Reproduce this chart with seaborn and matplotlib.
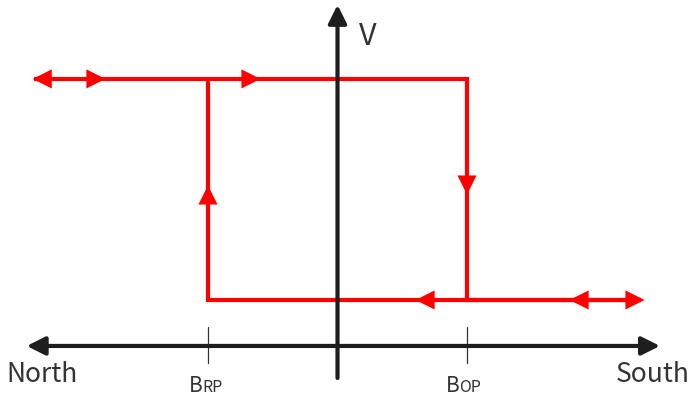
import pandas as pd
import seaborn as sns
import matplotlib.pyplot as plt

# Hall switch hysteresis: output V against field B (BRP = -1, BOP = +1)
b_rp = -1.0
b_op = 1.0
v_high = 1.0
v_low = 0.0

# loop path drawn as one continuous line
loop_b = [-2.34, b_op, b_op, 2.34, b_rp, b_rp]
loop_v = [v_high, v_high, v_low, v_low, v_low, v_high]

# arrowheads along the loop
arrow_b = [-2.28, -1.865, -0.668, 0.676, 1.865, 2.297, b_rp, b_op]
arrow_v = [v_high, v_high, v_high, v_low, v_low, v_low, 0.475, 0.52]
arrow_dir = ['<', '>', '>', '<', '<', '>', '^', 'v']

tick_b = [b_rp, b_op]

sns.set_style('white')
plt.rcParams['font.family'] = ['Noto Sans CJK SC', 'DejaVu Sans']

fig = plt.figure(figsize=(6.89, 4.0), dpi=100)
ax = fig.add_axes([0, 0, 1, 1])
ax.set_xlim(-2.606, 2.714)
ax.set_ylim(-0.4525, 1.357)
ax.axis('off')

ink = '#1e1e1e'
axis_y = -0.208

# axes with arrows
ax.annotate('', xy=(2.49, axis_y), xytext=(-2.40, axis_y),
            arrowprops=dict(arrowstyle='<|-|>,head_length=11,head_width=5.5',
                            mutation_scale=1, lw=3, color=ink, shrinkA=0, shrinkB=0))
ax.annotate('', xy=(0.0, 1.335), xytext=(0.0, -0.353),
            arrowprops=dict(arrowstyle='-|>,head_length=11,head_width=5.5',
                            mutation_scale=1, lw=3, color=ink, shrinkA=0, shrinkB=0))
for b in tick_b:
    ax.plot([b, b], [-0.122, -0.285], color='#333333', lw=0.9)

# hysteresis loop
df_loop = pd.DataFrame({'B': loop_b, 'V': loop_v})
sns.lineplot(data=df_loop, x='B', y='V', sort=False, estimator=None, ax=ax,
             color='red', lw=3, solid_joinstyle='miter', solid_capstyle='butt')

df_arr = pd.DataFrame({'B': arrow_b, 'V': arrow_v, 'dir': arrow_dir})
sns.scatterplot(data=df_arr, x='B', y='V', style='dir',
                markers={d: d for d in set(arrow_dir)}, color='red',
                s=190, linewidth=0, legend=False, ax=ax, zorder=5)

# labels
txt = '#333333'
ax.text(0.236, 1.19, 'V', fontsize=22, color=txt, ha='center', va='center')
ax.text(-2.28, -0.371, 'North', fontsize=19, color=txt, ha='center', va='baseline')
ax.text(2.43, -0.371, 'South', fontsize=19, color=txt, ha='center', va='baseline')
ax.text(b_rp - 0.04, -0.416, 'B', fontsize=15, color=txt, ha='right', va='baseline')
ax.text(b_rp - 0.04, -0.416, 'RP', fontsize=11.5, color=txt, ha='left', va='baseline')
ax.text(b_op - 0.06, -0.416, 'B', fontsize=15, color=txt, ha='right', va='baseline')
ax.text(b_op - 0.06, -0.416, 'OP', fontsize=11.5, color=txt, ha='left', va='baseline')

fig.savefig('out.png', dpi=100)
